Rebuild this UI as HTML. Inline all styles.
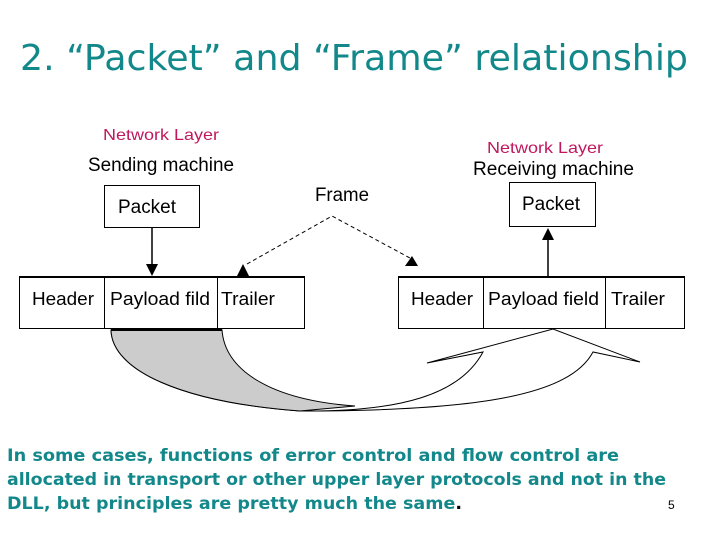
<!DOCTYPE html>
<html><head><meta charset="utf-8"><style>
body{margin:0;background:#fff;width:720px;height:540px;overflow:hidden}
svg{display:block}
</style></head><body>
<svg width="720" height="540" xmlns="http://www.w3.org/2000/svg" font-family="Liberation Sans, sans-serif">
<text x="20" y="70" font-family="Comic Sans MS, DejaVu Sans, sans-serif" font-size="36" fill="#13888a" textLength="668" lengthAdjust="spacingAndGlyphs">2. “Packet” and “Frame” relationship</text>
<text x="103" y="140" font-size="16" fill="#c0185e" textLength="116" lengthAdjust="spacingAndGlyphs">Network Layer</text>
<text x="88" y="171" font-size="19" fill="#000" textLength="146" lengthAdjust="spacingAndGlyphs">Sending machine</text>
<text x="487" y="153" font-size="16" fill="#c0185e" textLength="116" lengthAdjust="spacingAndGlyphs">Network Layer</text>
<text x="473" y="175" font-size="19" fill="#000" textLength="161" lengthAdjust="spacingAndGlyphs">Receiving machine</text>
<text x="315" y="201" font-size="19" fill="#000" textLength="54" lengthAdjust="spacingAndGlyphs">Frame</text>
<rect x="104.5" y="185.5" width="95" height="42" fill="none" stroke="#000"/>
<text x="118" y="213" font-size="19" textLength="58" lengthAdjust="spacingAndGlyphs">Packet</text>
<rect x="509.5" y="182.5" width="86" height="44" fill="none" stroke="#000"/>
<text x="522" y="210" font-size="19" textLength="58" lengthAdjust="spacingAndGlyphs">Packet</text>
<rect x="19.5" y="276.5" width="285" height="52" fill="none" stroke="#000"/>
<line x1="19" y1="277" x2="305" y2="277" stroke="#000" stroke-width="2"/>
<line x1="104.5" y1="277" x2="104.5" y2="328" stroke="#000"/>
<line x1="217.5" y1="277" x2="217.5" y2="328" stroke="#000"/>
<text x="32" y="305" font-size="18" textLength="62" lengthAdjust="spacingAndGlyphs">Header</text>
<text x="110" y="305" font-size="18" textLength="100" lengthAdjust="spacingAndGlyphs">Payload fild</text>
<text x="221" y="305" font-size="18" textLength="54" lengthAdjust="spacingAndGlyphs">Trailer</text>
<rect x="398.5" y="276.5" width="286" height="52" fill="none" stroke="#000"/>
<line x1="398" y1="277" x2="685" y2="277" stroke="#000" stroke-width="2"/>
<line x1="483.5" y1="277" x2="483.5" y2="328" stroke="#000"/>
<line x1="605.5" y1="277" x2="605.5" y2="328" stroke="#000"/>
<text x="411" y="305" font-size="18" textLength="62" lengthAdjust="spacingAndGlyphs">Header</text>
<text x="488" y="305" font-size="18" textLength="111" lengthAdjust="spacingAndGlyphs">Payload field</text>
<text x="611" y="305" font-size="18" textLength="54" lengthAdjust="spacingAndGlyphs">Trailer</text>
<line x1="152" y1="227" x2="152" y2="266" stroke="#000" stroke-width="1.5"/>
<polygon points="146,264 158,264 152,276" fill="#000"/>
<line x1="548" y1="276" x2="548" y2="238" stroke="#000" stroke-width="1.5"/>
<polygon points="542,240 554,240 548,228" fill="#000"/>
<polyline points="247,264 332,216 410,258" fill="none" stroke="#000" stroke-dasharray="4,3"/>
<polygon points="237,276 249,276 243,264" fill="#000"/>
<polygon points="405,266 418,266 412,256" fill="#000"/>
<path d="M111,330 C112,370 180,402 300,411 C400,412 460,395 483,352 L427,363 L553,329 L640,362 L593,352 C570,395 480,411 300,411" fill="#fff" stroke="#000" stroke-width="1"/>
<path d="M111,330 L222,330 C225,370 270,400 355,406 L300,411 C180,402 112,370 111,330 Z" fill="#cccccc" stroke="#000" stroke-width="1"/>
<line x1="111" y1="330" x2="222" y2="330" stroke="#000" stroke-width="2"/>
<g font-family="Comic Sans MS, DejaVu Sans, sans-serif" font-weight="bold" font-size="17" fill="#13888a" lengthAdjust="spacingAndGlyphs">
<text x="7" y="461" textLength="612" lengthAdjust="spacingAndGlyphs">In some cases, functions of error control and flow control are</text>
<text x="7" y="485" textLength="659" lengthAdjust="spacingAndGlyphs">allocated in transport or other upper layer protocols and not in the</text>
<text x="7" y="509" textLength="455" lengthAdjust="spacingAndGlyphs">DLL, but principles are pretty much the same<tspan fill="#000">.</tspan></text>
</g>
<text x="668" y="509" font-size="12" fill="#000">5</text>
</svg>
</body></html>
